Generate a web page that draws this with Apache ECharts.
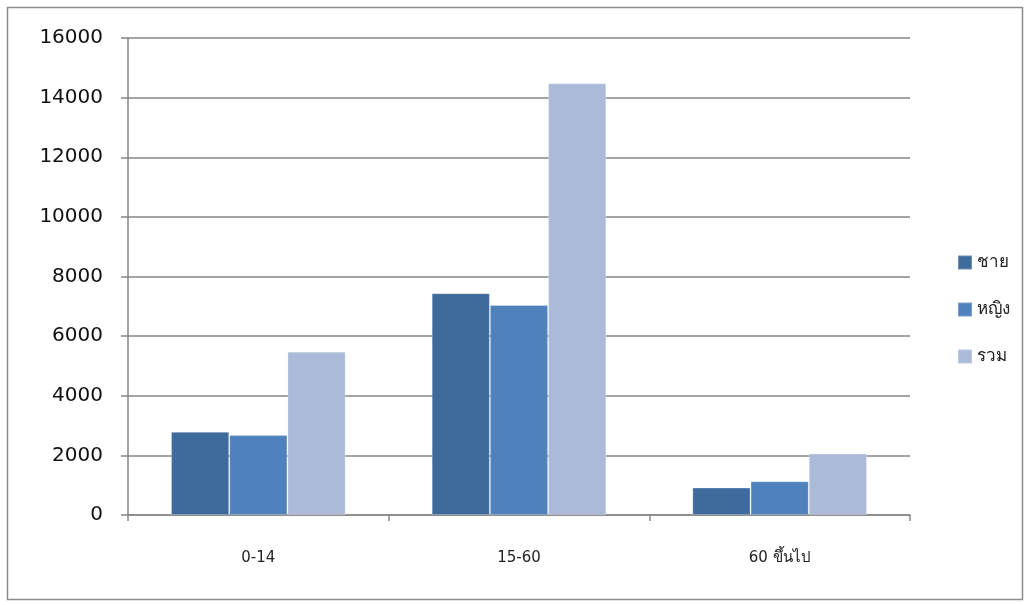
<!DOCTYPE html>
<html><head><meta charset="utf-8">
<script src="https://cdn.jsdelivr.net/npm/echarts@6/dist/echarts.min.js"></script>
<style>html,body{margin:0;padding:0;background:#fff}#c{width:1029px;height:605px}</style>
</head><body><div id="c"></div>
<script>
const categories = ['0-14', '15-60', '60 ขึ้นไป'];
const seriesNames = ['ชาย', 'หญิง', 'รวม'];
const male = [2790, 7440, 920];
const female = [2680, 7040, 1130];
const total = [5480, 14480, 2060];
const yTicks = {min: 0, max: 16000, interval: 2000};

const colors = ['#3F6A9C', '#4F81BD', '#AABAD8'];
const chart = echarts.init(document.getElementById('c'));
const mk = (name, data, i) => ({
  name, type: 'bar', data, barGap: '0%', barCategoryGap: '33%',
  itemStyle: {color: colors[i], borderColor: 'rgba(255,255,255,0.25)', borderWidth: 1}
});
chart.setOption({
  animation: false,
  graphic: [{type: 'rect', shape: {x: 7.5, y: 7.5, width: 1015, height: 592}, style: {fill: null, stroke: '#8c8c8c', lineWidth: 1.5}, silent: true}],
  grid: {left: 128, top: 38, right: 119, bottom: 90, containLabel: false},
  legend: {
    orient: 'vertical', left: 952, top: 249, itemGap: 30, itemWidth: 14, itemHeight: 14,
    icon: 'rect', data: seriesNames,
    textStyle: {fontSize: 17, color: '#222', fontFamily: 'Noto Sans, DejaVu Sans, sans-serif'}
  },
  xAxis: {
    type: 'category', data: categories,
    axisLine: {lineStyle: {color: '#868686', width: 1.5}},
    axisTick: {show: true, length: 6, lineStyle: {color: '#868686', width: 1.5}},
    axisLabel: {margin: 36, fontSize: 15, color: '#222', fontFamily: 'DejaVu Sans, Noto Sans, sans-serif'}
  },
  yAxis: {
    type: 'value', min: yTicks.min, max: yTicks.max, interval: yTicks.interval,
    axisLine: {show: true, lineStyle: {color: '#868686', width: 1.5}},
    axisTick: {show: true, length: 7, lineStyle: {color: '#868686', width: 1.5}},
    splitLine: {lineStyle: {color: '#868686', width: 1.5}},
    axisLabel: {margin: 25, fontSize: 20, color: '#111', fontFamily: 'DejaVu Sans, sans-serif', formatter: v => String(v)}
  },
  series: [mk(seriesNames[0], male, 0), mk(seriesNames[1], female, 1), mk(seriesNames[2], total, 2)]
});
</script></body></html>
